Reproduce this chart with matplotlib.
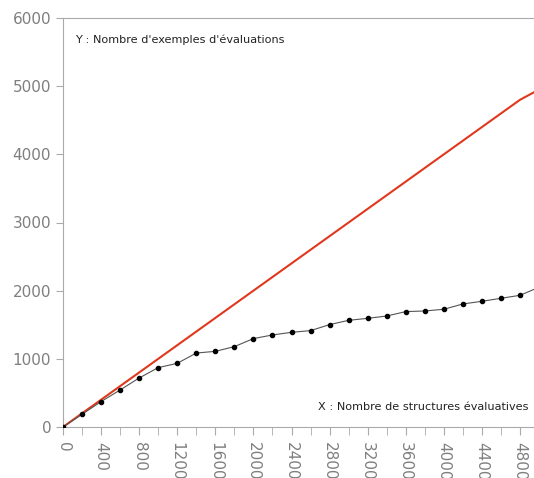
import numpy as np
import matplotlib
matplotlib.use("Agg")
import matplotlib.pyplot as plt

# data
structures = [0, 200, 400, 600, 800, 1000, 1200, 1400, 1600, 1800, 2000, 2200, 2400,
              2600, 2800, 3000, 3200, 3400, 3600, 3800, 4000, 4200, 4400, 4600, 4800, 5000]
exemples = [0, 186, 373, 543, 719, 871, 934, 1085, 1110, 1179, 1297, 1350, 1389,
            1414, 1502, 1565, 1594, 1628, 1693, 1702, 1727, 1805, 1844, 1888, 1932, 2050]
ref_x = [0, 4800, 5000]
ref_y = [0, 4800, 4950]

grey = '#7f7f7f'

fig = plt.figure(figsize=(5.34, 4.78), dpi=100)
ax = fig.add_axes([63/534, 51/478, 1 - 63/534, (427 - 18)/478])

ax.plot(ref_x, ref_y, color='#e0381c', linewidth=1.5, zorder=2)
ax.plot(structures, exemples, color='#555555', linewidth=0.8,
        marker='o', markersize=3, markerfacecolor='black', markeredgecolor='black', zorder=3)

ax.set_xlim(0, 4947)
ax.set_ylim(0, 6000)

ax.set_xticks(np.arange(0, 5000, 200), minor=True)
ax.set_xticks(np.arange(0, 5000, 400))
ax.set_yticks(np.arange(0, 6001, 1000))
ax.tick_params(axis='x', which='both', length=6, color='#aaaaaa')
ax.tick_params(axis='x', labelrotation=270, labelsize=11, labelcolor=grey, pad=5)
ax.tick_params(axis='y', length=5, color='#aaaaaa', labelsize=11, labelcolor=grey)
for lab in ax.get_xticklabels():
    lab.set_horizontalalignment('center')
    lab.set_verticalalignment('top')

for side in ['left', 'top', 'bottom']:
    ax.spines[side].set_color('#aaaaaa')
ax.spines['right'].set_visible(False)

ax.text(12/471, 1 - 22/409, "Y : Nombre d'exemples d'évaluations", transform=ax.transAxes,
        fontsize=8.1, color='#222222', ha='left', va='center')
ax.text(466/471, 20/409, "X : Nombre de structures évaluatives", transform=ax.transAxes,
        fontsize=8.1, color='#222222', ha='right', va='center')

fig.savefig('out.png', dpi=100)
